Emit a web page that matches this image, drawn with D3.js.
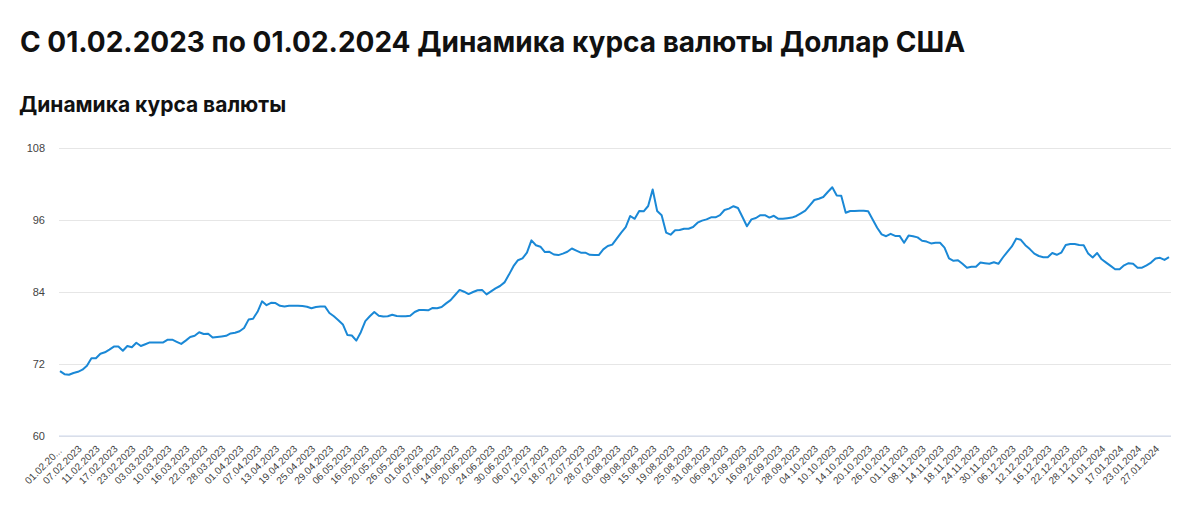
<!DOCTYPE html>
<html lang="ru">
<head>
<meta charset="utf-8">
<title>Динамика курса валюты Доллар США</title>
<script src="https://cdn.jsdelivr.net/npm/d3@7"></script>
<style>
	body { margin: 0; background: #fff; }
	#chart { width: 1200px; height: 508px; }
</style>
</head>
<body>
<div id="chart"></div>
<script>
// labels shown under the axis (every 4th rate date)
const tickLabels = [
	"01.02.2023", "07.02.2023", "11.02.2023", "17.02.2023", "23.02.2023", "03.03.2023",
	"10.03.2023", "16.03.2023", "22.03.2023", "28.03.2023", "01.04.2023", "07.04.2023",
	"13.04.2023", "19.04.2023", "25.04.2023", "29.04.2023", "06.05.2023", "16.05.2023",
	"20.05.2023", "26.05.2023", "01.06.2023", "07.06.2023", "14.06.2023", "20.06.2023",
	"24.06.2023", "30.06.2023", "06.07.2023", "12.07.2023", "18.07.2023", "22.07.2023",
	"28.07.2023", "03.08.2023", "09.08.2023", "15.08.2023", "19.08.2023", "25.08.2023",
	"31.08.2023", "06.09.2023", "12.09.2023", "16.09.2023", "22.09.2023", "28.09.2023",
	"04.10.2023", "10.10.2023", "14.10.2023", "20.10.2023", "26.10.2023", "01.11.2023",
	"08.11.2023", "14.11.2023", "18.11.2023", "24.11.2023", "30.11.2023", "06.12.2023",
	"12.12.2023", "16.12.2023", "22.12.2023", "28.12.2023", "11.01.2024", "17.01.2024",
	"23.01.2024", "27.01.2024"
];
const tickStep = 4;

// USD rate, one value per rate date, 01.02.2023 .. 01.02.2024
const rates = [
	70.8, 70.3, 70.2, 70.5, 70.7, 71.05, 71.7, 72.95, 72.95, 73.7,
	73.95, 74.4, 74.9, 74.9, 74.2, 75.0, 74.8, 75.55, 75.0, 75.3,
	75.6, 75.6, 75.6, 75.6, 76.05, 76.05, 75.7, 75.35, 75.9, 76.5,
	76.7, 77.3, 77.0, 77.05, 76.4, 76.5, 76.6, 76.7, 77.1, 77.2,
	77.45, 78.0, 79.4, 79.55, 80.7, 82.45, 81.8, 82.2, 82.15, 81.7,
	81.6, 81.7, 81.7, 81.7, 81.65, 81.55, 81.3, 81.5, 81.6, 81.6,
	80.5, 79.95, 79.3, 78.6, 76.85, 76.75, 75.9, 77.3, 79.15, 79.95,
	80.67, 80.05, 79.9, 79.95, 80.2, 80.0, 79.95, 79.95, 80.05, 80.67,
	81.0, 81.0, 80.95, 81.35, 81.3, 81.5, 82.1, 82.65, 83.5, 84.35,
	84.05, 83.65, 84.0, 84.3, 84.35, 83.6, 84.1, 84.6, 85.0, 85.6,
	86.9, 88.3, 89.3, 89.6, 90.55, 92.6, 91.8, 91.55, 90.65, 90.7,
	90.25, 90.15, 90.4, 90.7, 91.25, 90.9, 90.55, 90.55, 90.2, 90.15,
	90.15, 91.1, 91.67, 91.9, 92.9, 93.9, 94.8, 96.67, 96.2, 97.5,
	97.45, 98.33, 101.1, 97.5, 96.8, 93.9, 93.55, 94.3, 94.33, 94.55,
	94.55, 94.83, 95.55, 95.9, 96.1, 96.45, 96.45, 96.8, 97.67, 97.9,
	98.3, 98.0, 96.5, 94.95, 96.1, 96.33, 96.8, 96.8, 96.4, 96.7,
	96.2, 96.2, 96.3, 96.4, 96.67, 97.1, 97.55, 98.45, 99.33, 99.55,
	99.83, 100.67, 101.45, 100.1, 100.05, 97.2, 97.5, 97.5, 97.55, 97.55,
	97.45, 96.1, 94.7, 93.6, 93.3, 93.7, 93.35, 93.35, 92.2, 93.4,
	93.3, 93.1, 92.55, 92.4, 92.1, 92.2, 92.2, 91.4, 89.6, 89.2,
	89.3, 88.7, 88.05, 88.2, 88.2, 88.9, 88.8, 88.7, 88.95, 88.7,
	89.75, 90.7, 91.6, 92.9, 92.7, 91.8, 91.15, 90.4, 90.0, 89.8,
	89.8, 90.5, 90.2, 90.55, 91.85, 92.0, 92.0, 91.85, 91.8, 90.4,
	89.75, 90.5, 89.45, 88.9, 88.35, 87.8, 87.8, 88.45, 88.8, 88.7,
	88.05, 88.05, 88.45, 88.9, 89.6, 89.7, 89.35, 89.8
];
const yTicks = [60, 72, 84, 96, 108];

const titleText = "С 01.02.2023 по 01.02.2024 Динамика курса валюты Доллар США";
const subtitleText = "Динамика курса валюты";

const width = 1200;
const height = 508;
const margin = { top: 148, right: 29, bottom: 72, left: 59 };

const svg = d3.select("#chart").append("svg")
	.attr("width", width)
	.attr("height", height);

// headings
svg.append("text")
	.attr("x", 20).attr("y", 52)
	.attr("font-family", "Inter, 'Noto Sans', sans-serif")
	.attr("font-weight", 700)
	.attr("font-size", 28)
	.attr("fill", "#111")
	.text(titleText);

svg.append("text")
	.attr("x", 19).attr("y", 112)
	.attr("font-family", "Inter, 'Noto Sans', sans-serif")
	.attr("font-weight", 700)
	.attr("font-size", 21)
	.attr("fill", "#111")
	.text(subtitleText);

const innerBottom = height - margin.bottom;

const xScale = d3.scalePoint()
	.domain(d3.range(rates.length))
	.range([margin.left + 1, width - margin.right - 2]);

const yScale = d3.scaleLinear()
	.domain([60, 108])
	.range([innerBottom, margin.top]);

// grid + y labels
const yAxisG = svg.append("g")
	.attr("transform", `translate(${margin.left},0)`)
	.call(d3.axisLeft(yScale).tickValues(yTicks)
		.tickSize(-(width - margin.left - margin.right))
		.tickPadding(14));
yAxisG.select(".domain").remove();
yAxisG.selectAll(".tick line")
	.attr("stroke", "#e6e6e6");
yAxisG.selectAll(".tick text")
	.attr("fill", "#444")
	.attr("font-family", "'Liberation Sans', Arial, sans-serif")
	.attr("font-size", 11);

// x axis (category, every 4th label)
const xAxisG = svg.append("g")
	.attr("transform", `translate(0,${innerBottom})`);
xAxisG.append("line")
	.attr("x1", margin.left).attr("x2", width - margin.right)
	.attr("stroke", "#ccd6eb");

const ticks = tickLabels.map((label, i) => ({ index: i * tickStep, label: label }));

const xLabels = xAxisG.selectAll("text.xlabel").data(ticks)
	.enter().append("text")
	.attr("class", "xlabel")
	.attr("transform", d => `translate(${xScale(d.index) + 2},${11}) rotate(-45)`)
	.attr("text-anchor", "end")
	.attr("dy", "0.35em")
	.attr("fill", "#444")
	.attr("font-family", "'Liberation Sans', Arial, sans-serif")
	.attr("font-size", 10)
	.text(d => d.label);

// first label is cut short at the chart edge, keeping its start in place
const first = xLabels.filter((d, i) => i === 0);
const fullLen = first.node().getComputedTextLength();
first.text(d => d.label.slice(0, 8) + "...");
const cutLen = first.node().getComputedTextLength();
first.attr("dx", cutLen - fullLen);

// line
const line = d3.line()
	.x((d, i) => xScale(i))
	.y(d => yScale(d));

svg.append("path")
	.datum(rates)
	.attr("fill", "none")
	.attr("stroke", "#1a88d6")
	.attr("stroke-width", 2)
	.attr("stroke-linejoin", "round")
	.attr("d", line);
</script>
</body>
</html>
